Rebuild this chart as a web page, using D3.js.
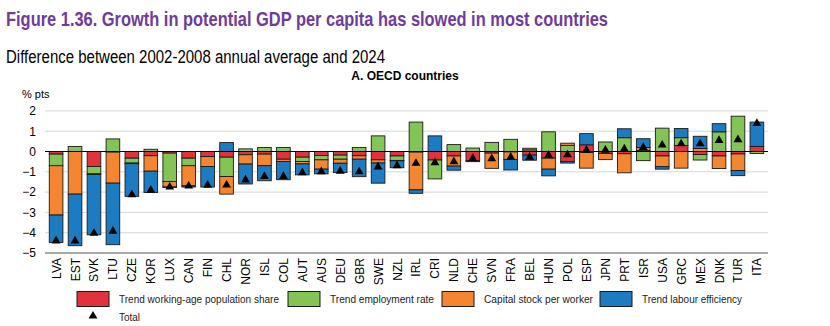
<!DOCTYPE html>
<html><head><meta charset="utf-8">
<script src="https://cdn.jsdelivr.net/npm/d3@7"></script>
<style>body{margin:0;background:#fff;} svg{display:block;font-family:"Liberation Sans",Arial,sans-serif;}</style>
</head><body>
<svg id="chart" width="830" height="326"></svg>
<script>
const countries = ["LVA","EST","SVK","LTU","CZE","KOR","LUX","CAN","FIN","CHL","NOR","ISL","COL","AUT","AUS","DEU","GBR","SWE","NZL","IRL","CRI","NLD","CHE","SVN","FRA","BEL","HUN","POL","ESP","JPN","PRT","ISR","USA","GRC","MEX","DNK","TUR","ITA"];
const workingAgeShare = [-0.13,0,-0.74,-0.03,-0.33,-0.21,-0.08,-0.33,-0.25,-0.28,-0.16,-0.13,-0.38,-0.28,-0.2,-0.18,-0.21,-0.41,-0.22,-0.03,-0.42,-0.22,-0.45,-0.08,-0.02,-0.18,-0.33,-0.49,0.33,-0.1,-0.11,0.05,-0.22,0.3,-0.15,-0.22,-0.12,0.25];
const employmentRate = [-0.57,0.25,-0.36,0.62,-0.24,0.11,-1.4,-0.37,0,-0.95,0.13,0.2,0.2,-0.21,-0.21,-0.2,0.2,0.77,-0.22,1.45,-0.93,0.34,0.17,0.45,0.6,0.08,0.97,0.3,-0.05,0.47,0.68,-0.45,1.15,0.38,-0.27,0.97,1.74,-0.1];
const capitalPerWorker = [-2.43,-2.1,-0.03,-1.53,-0.03,-0.76,-0.27,-0.99,-0.49,-0.87,-0.46,-0.57,-0.11,-0.12,-0.46,-0.2,-0.17,-0.16,-0.02,-1.86,0,-0.5,0,-0.75,-0.37,0.08,-0.54,0.11,-0.77,-0.3,-0.94,0.15,-0.53,-0.82,0.15,-0.62,-0.82,0];
const labourEfficiency = [-1.35,-2.54,-2.97,-3.03,-1.61,-1.05,-0.02,-0.06,-1.01,0.44,-0.98,-0.74,-0.9,-0.54,-0.23,-0.46,-0.86,-0.99,-0.34,-0.17,0.77,-0.2,-0.05,0,-0.52,-0.25,-0.33,-0.08,0.55,0,0.44,0.43,-0.12,0.45,0.6,0.4,-0.25,1.2];
const totals = [-4.4,-4.4,-4.03,-3.92,-2.13,-1.9,-1.75,-1.7,-1.66,-1.65,-1.4,-1.23,-1.23,-1.04,-0.99,-0.97,-1.0,-0.76,-0.7,-0.58,-0.55,-0.5,-0.34,-0.35,-0.28,-0.28,-0.18,-0.16,0.07,0.07,0.13,0.2,0.32,0.38,0.38,0.55,0.58,1.38];
const yTicks = [2,1,0,-1,-2,-3,-4,-5];
const seriesNames = ["Trend working-age population share","Trend employment rate","Capital stock per worker","Trend labour efficiency"];
const seriesColors = ["#e2333c","#84c456","#f58631","#1c7bc1"];

const svg = d3.select("#chart");
const keys = ["wap","emp","cap","eff"];
const rows = countries.map((c,i)=>({c, wap:workingAgeShare[i], emp:employmentRate[i], cap:capitalPerWorker[i], eff:labourEfficiency[i], total:totals[i]}));

const x = d3.scaleBand().domain(countries).range([47,766]).paddingInner(0.28).paddingOuter(0.12);
const y = d3.scaleLinear().domain([-5,2]).range([253,110.9]);

// Titles
svg.append("text").attr("x",6).attr("y",26).attr("font-size",21).attr("font-weight","bold").attr("fill","#6f3c9a")
  .attr("textLength",602).attr("lengthAdjust","spacingAndGlyphs")
  .text("Figure 1.36. Growth in potential GDP per capita has slowed in most countries");
svg.append("text").attr("x",6).attr("y",63).attr("font-size",17.5).attr("fill","#000")
  .attr("textLength",379).attr("lengthAdjust","spacingAndGlyphs")
  .text("Difference between 2002-2008 annual average and 2024");
svg.append("text").attr("x",405).attr("y",80).attr("font-size",12).attr("font-weight","bold").attr("text-anchor","middle")
  .text("A. OECD countries");
svg.append("text").attr("x",22).attr("y",98).attr("font-size",11).text("% pts");

// Grid
svg.append("g").selectAll("line").data(yTicks.filter(t=>t!==0 && t!==-5)).join("line")
  .attr("x1",45).attr("x2",768).attr("y1",d=>y(d)).attr("y2",d=>y(d))
  .attr("stroke","#d6d6d6").attr("stroke-width",1);

// Y axis labels
const yAxis = d3.axisLeft(y).tickValues(yTicks).tickSize(0).tickPadding(0).tickFormat(d3.format("d"));
const yg = svg.append("g").attr("transform","translate(36,0)").call(yAxis);
yg.select(".domain").remove();
yg.selectAll("text").attr("font-size",12).attr("fill","#000").attr("font-family","Liberation Sans, Arial, sans-serif");

// Bars
const stack = d3.stack().keys(keys).offset(d3.stackOffsetDiverging);
const series = stack(rows);
svg.append("g").selectAll("g").data(series).join("g")
  .attr("fill",(d,i)=>seriesColors[i])
  .selectAll("rect").data(d=>d).join("rect")
  .attr("x",d=>x(d.data.c)).attr("width",x.bandwidth())
  .attr("y",d=>y(Math.max(d[0],d[1])))
  .attr("height",d=>Math.abs(y(d[0])-y(d[1])))
  .attr("stroke","#1a1a1a").attr("stroke-width",0.9);

// zero line
svg.append("line").attr("x1",45).attr("x2",768).attr("y1",y(0)).attr("y2",y(0)).attr("stroke","#000").attr("stroke-width",1);
// bottom axis line
svg.append("line").attr("x1",45).attr("x2",768).attr("y1",y(-5)).attr("y2",y(-5)).attr("stroke","#8c8c8c").attr("stroke-width",1.5);

// Totals
const tri = d3.symbol().type(d3.symbolTriangle).size(34);
svg.append("g").selectAll("path").data(rows).join("path")
  .attr("d",tri).attr("fill","#000")
  .attr("transform",d=>`translate(${x(d.c)+x.bandwidth()/2},${y(d.total)})`);

// X labels
svg.append("g").selectAll("text").data(countries).join("text")
  .attr("transform",d=>`translate(${x(d)+x.bandwidth()/2+4.5},258) rotate(-90)`)
  .attr("text-anchor","end").attr("font-size",12).attr("fill","#000").text(d=>d);

// Legend
const legX = [77,288,442,600];
const legW = [160,104,109,100];
const legend = svg.append("g");
seriesNames.forEach((n,i)=>{
  legend.append("rect").attr("x",legX[i]).attr("y",291.5).attr("width",32).attr("height",15)
    .attr("fill",seriesColors[i]).attr("stroke","#1a1a1a").attr("stroke-width",1);
  legend.append("text").attr("x",legX[i]+42).attr("y",303).attr("font-size",10.5).attr("fill","#222")
    .attr("textLength",legW[i]).attr("lengthAdjust","spacingAndGlyphs").text(n);
});
legend.append("path").attr("d",tri).attr("fill","#000").attr("transform","translate(93,316)");
legend.append("text").attr("x",119).attr("y",321).attr("font-size",10.5).attr("fill","#222")
  .attr("textLength",21).attr("lengthAdjust","spacingAndGlyphs").text("Total");
</script>
</body></html>
